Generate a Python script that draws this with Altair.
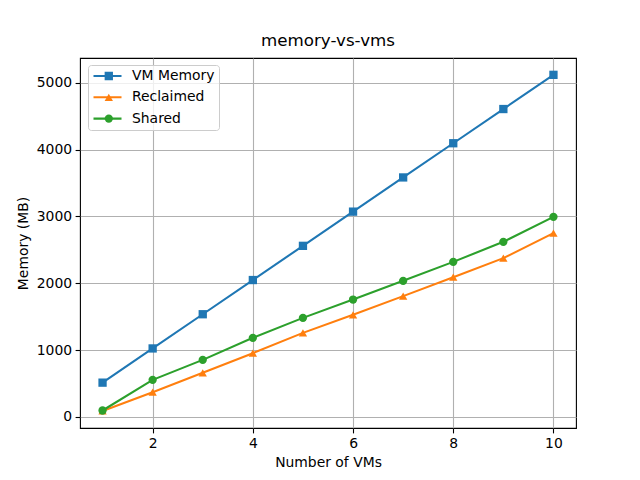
import altair as alt
import pandas as pd

vms = [1, 2, 3, 4, 5, 6, 7, 8, 9, 10]
vm_memory = [512, 1024, 1536, 2048, 2560, 3072, 3584, 4096, 4608, 5120]
reclaimed = [88, 369, 659, 953, 1257, 1527, 1807, 2091, 2376, 2750]
shared = [95, 554, 853, 1183, 1482, 1756, 2036, 2320, 2620, 2994]

series_names = ["VM Memory", "Reclaimed", "Shared"]
series_colors = ["#1f77b4", "#ff7f0e", "#2ca02c"]
series_shapes = ["square", "triangle-up", "circle"]

rows = []
for name, vals in zip(series_names, [vm_memory, reclaimed, shared]):
    for n, v in zip(vms, vals):
        rows.append({"vms": n, "mem": v, "series": name, "series2": name})
df = pd.DataFrame(rows)

FONT = "DejaVu Sans"
FS = 13.9

x = alt.X("vms:Q", title="Number of VMs",
          scale=alt.Scale(domain=[0.55, 10.45], nice=False, zero=False),
          axis=alt.Axis(values=[2, 4, 6, 8, 10], format="d"))
y = alt.Y("mem:Q", title="Memory (MB)",
          scale=alt.Scale(domain=[-167, 5372], nice=False, zero=False),
          axis=alt.Axis(values=[0, 1000, 2000, 3000, 4000, 5000], format="d"))

lines = alt.Chart(df).mark_line(strokeWidth=2.08).encode(
    x=x, y=y,
    stroke=alt.Stroke("series:N", sort=series_names,
                      scale=alt.Scale(range=series_colors),
                      legend=alt.Legend(
                          title=None, orient="none", legendX=8, legendY=7,
                          symbolType="stroke", symbolSize=784, symbolStrokeWidth=2.08,
                          padding=4, clipHeight=14, rowPadding=7.3,
                          labelFont=FONT, labelFontSize=FS, labelColor="black",
                          labelOffset=9,
                          fillColor="rgba(255,255,255,0.8)", strokeColor="#cccccc",
                          cornerRadius=3)),
)

legend_b = alt.Legend(
    title=None, orient="none", legendX=17.85, legendY=7,
    symbolSize=69, symbolOpacity=1,
    padding=4, clipHeight=14, rowPadding=7.3,
    labelFont=FONT, labelFontSize=FS, labelExpr="''")

points = alt.Chart(df).mark_point(filled=True, size=69, opacity=1).encode(
    x=x, y=y,
    fill=alt.Fill("series2:N",
                  scale=alt.Scale(domain=series_names, range=series_colors),
                  legend=legend_b),
    shape=alt.Shape("series2:N",
                    scale=alt.Scale(domain=series_names, range=series_shapes),
                    legend=legend_b),
)

chart = alt.layer(lines, points).properties(
    width=496, height=370,
    title=alt.TitleParams("memory-vs-vms", font=FONT, fontSize=16.7,
                          fontWeight="normal", color="black", offset=8),
    autosize=alt.AutoSizeParams(type="none"),
    padding={"left": 72, "top": 50, "right": 56, "bottom": 44},
).configure_view(
    stroke="black", strokeWidth=1.1
).configure_axis(
    domain=False, grid=True, gridColor="#b0b0b0", gridWidth=1.1,
    ticks=True, tickColor="black", tickWidth=1.1, tickSize=4.9,
    labelFont=FONT, labelFontSize=FS, labelColor="black", labelPadding=3.5,
    titleFont=FONT, titleFontSize=FS, titleColor="black", titleFontWeight="normal",
).configure_axisX(titlePadding=5).configure_axisY(titlePadding=6)

chart.save("out.html", embed_options={"renderer": "svg", "actions": False})
